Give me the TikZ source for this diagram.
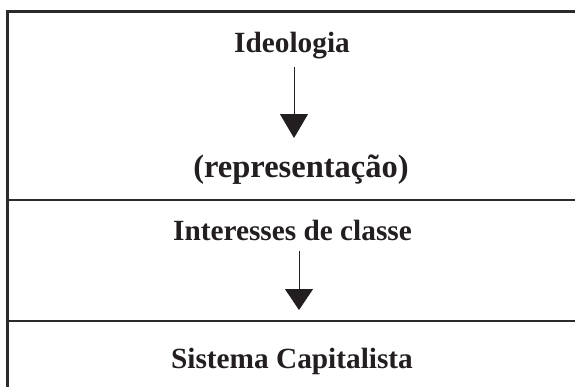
\documentclass[tikz,border=0pt]{standalone}
\usepackage{fontspec}
\setmainfont{Liberation Serif}
\usetikzlibrary{arrows.meta}
\definecolor{frame}{HTML}{2B2B2B}
\definecolor{ink}{HTML}{231F20}
\tikzset{
  label/.style={anchor=base,inner sep=0pt,text=ink,font=\fontsize{29.3}{32}\selectfont\bfseries},
  biglabel/.style={label,font=\fontsize{32.5}{36}\selectfont\bfseries},
  frameline/.style={draw=frame,line width=2.5pt},
  flow/.style={draw=ink,line width=1pt,-{Triangle[width=28pt,length=24pt]}},
}
\begin{document}
\begin{tikzpicture}[x=1pt,y=-1pt]
\useasboundingbox (0,0) rectangle (575,386);
\clip (0,0) rectangle (575,386);
\fill[white] (0,0) rectangle (575,386);
% frame
\draw[frameline] (7.5,400) -- (7.5,11.5) -- (600,11.5);
\draw[frameline] (7.5,200) -- (600,200);
\draw[frameline] (7.5,321) -- (600,321);
% texts
\node[label] (ideo) at (292,52) {Ideologia};
\node[biglabel] (repr) at (301,177) {(representação)};
\node[label] (inter) at (292.5,240) {Interesses de classe};
\node[label] (sist) at (292,368) {Sistema Capitalista};
% arrows
\coordinate (a1s) at (294,67);
\coordinate (a1e) at (294,138);
\coordinate (a2s) at (299,251);
\coordinate (a2e) at (299,310);
\draw[flow] (a1s) -- (a1e);
\draw[flow,-{Triangle[width=28pt,length=21pt]}] (a2s) -- (a2e);
\end{tikzpicture}
\end{document}
